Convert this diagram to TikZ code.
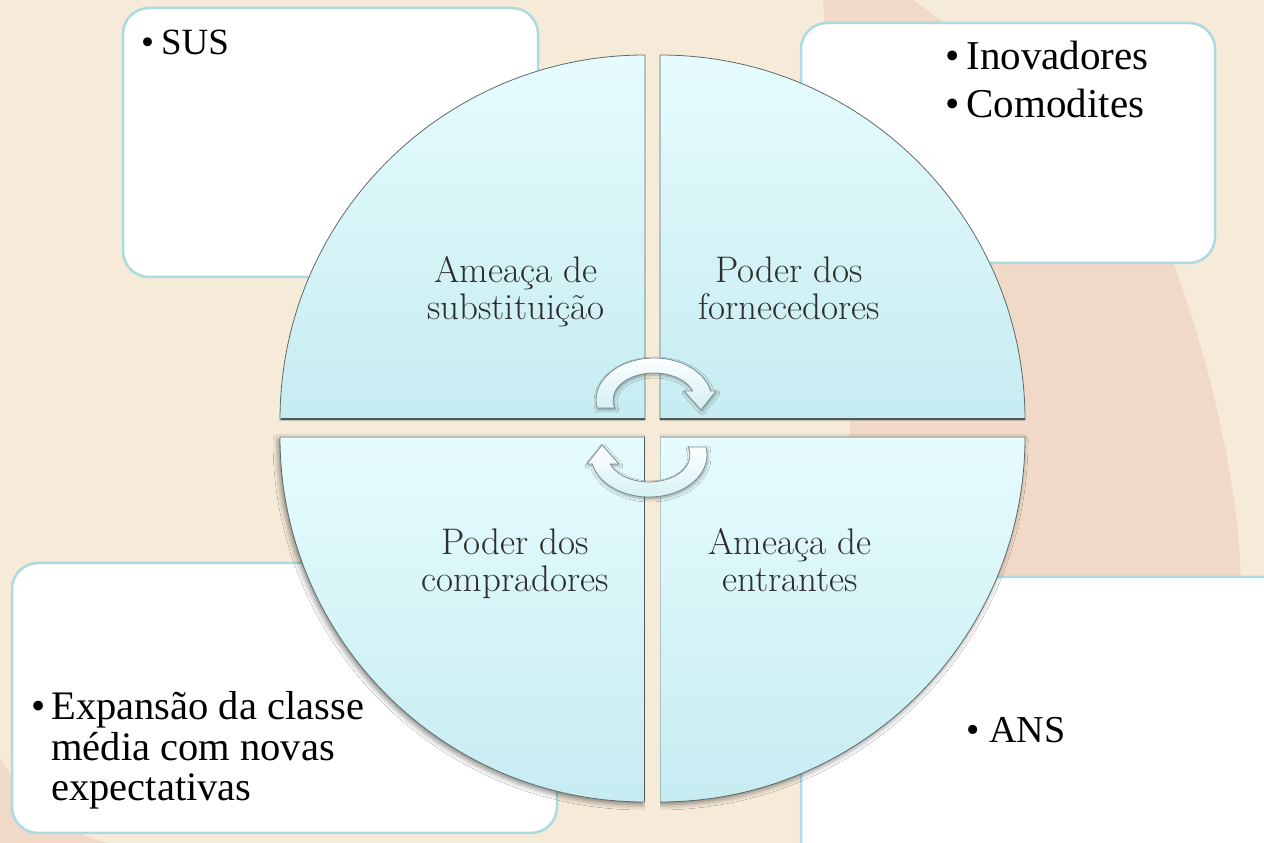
\documentclass[tikz,border=0pt]{standalone}
\usepackage{fontspec}
\newfontfamily\bfont{Liberation Serif}
\usetikzlibrary{shadows.blur}
\definecolor{bg}{HTML}{F6EBD9}
\definecolor{peach}{HTML}{F0D9C6}
\definecolor{boxline}{HTML}{ABDAE1}
\definecolor{qtop}{HTML}{E6FCFE}
\definecolor{qbot}{HTML}{C6ECF1}
\definecolor{qline}{HTML}{5F6A6A}
\definecolor{qdark}{HTML}{4E5A5C}
\definecolor{lbl}{HTML}{2E2E2E}
\definecolor{arrline}{HTML}{7F8C8E}
\definecolor{arrfill}{HTML}{D3F0F4}
\begin{document}
\begin{tikzpicture}[x=1pt,y=1pt,
  box/.style={draw=boxline, line width=2.5pt, fill=white, rounded corners=26pt, inner sep=0pt, outer sep=0pt},
  quad/.style={draw=qline, line width=0.8pt, top color=qtop, bottom color=qbot},
  quadlow/.style={quad, blur shadow={shadow xshift=-2pt, shadow yshift=-3pt, shadow blur radius=5pt, shadow opacity=45}},
  qlabel/.style={anchor=base, inner sep=0pt, text=lbl, font=\fontsize{37}{38}\selectfont},
  btext/.style={anchor=base west, inner sep=0pt, text=black},
  cyc/.style={draw=arrline, line width=0.8pt, top color=white, bottom color=arrfill, line join=round,
    blur shadow={shadow xshift=1pt, shadow yshift=-2pt, shadow blur radius=3pt, shadow opacity=35}}
]
\useasboundingbox (0,0) rectangle (1264,843);
% background
\fill[bg] (0,0) rectangle (1264,843);
\begin{scope}
\clip (0,0) rectangle (1264,843);
\fill[peach] (823,843) -- (913,843) .. controls (1030,760) and (1120,660) .. (1160,613)
  .. controls (1200,520) and (1235,380) .. (1240,283) -- (1250,-10) -- (850,-10) -- (850,443) -- cycle;
\fill[peach] (0,85) .. controls (20,50) and (60,10) .. (110,0) -- (0,0) -- cycle;
\end{scope}

% boxes
\node[box, minimum width=415pt, minimum height=269pt] (boxTL) at (330.5,700.5) {};
\node[box, minimum width=414pt, minimum height=240pt] (boxTR) at (1008,700) {};
\node[box, minimum width=545pt, minimum height=270pt] (boxBL) at (284.5,145) {};
\node[box, minimum width=499pt, minimum height=306pt] (boxBR) at (1050.5,113) {};

% box texts
\node[btext, font=\bfont\fontsize{37}{40}\selectfont] (sus) at (141,788) {\textbullet\hspace{7pt}SUS};
\node[btext, font=\bfont\fontsize{41}{48}\selectfont] (forn) at (945,773)
  {\begin{tabular}[t]{@{}l@{}}\textbullet\hspace{7pt}Inovadores\\\textbullet\hspace{7pt}Comodites\end{tabular}};
\node[btext, font=\bfont\fontsize{40.5}{40}\selectfont] (comp) at (31,123)
  {\textbullet\hspace{6pt}\begin{tabular}[t]{@{}l@{}}Expansão da classe\\média com novas\\expectativas\end{tabular}};
\node[btext, font=\bfont\fontsize{38}{40}\selectfont] (ans) at (966,100) {\textbullet\hspace{10pt}ANS};

% quadrants
\path[quadlow] (645,406) -- (280,406) arc[start angle=180, end angle=270, radius=365] -- cycle;
\path[quadlow] (660,406) -- (1025,406) arc[start angle=0, end angle=-90, radius=365] -- cycle;
\fill[bg] (645.45,30) rectangle (659.55,430);
\path[quad] (645,423) -- (280,423) arc[start angle=180, end angle=90, radius=365] -- cycle;
\path[quad] (660,423) -- (660,788) arc[start angle=90, end angle=0, radius=365] -- cycle;
\draw[qdark, line width=2.6pt] (280.5,424) -- (645,424);
\draw[qdark, line width=2.6pt] (660,424) -- (1024.5,424);
\draw[qdark, line width=1.4pt] (644.6,405.6) -- (644.6,41.5);

% labels
\node[qlabel] (q1a) at (516,560) {Ameaça de};
\node[qlabel] (q1b) at (516,523) {substituição};
\node[qlabel] (q2a) at (789,560) {Poder dos};
\node[qlabel] (q2b) at (789,523) {fornecedores};
\node[qlabel] (q3a) at (515,288) {Poder dos};
\node[qlabel] (q3b) at (515,251) {compradores};
\node[qlabel] (q4a) at (790,288) {Ameaça de};
\node[qlabel] (q4b) at (790,251) {entrantes};

% cycle arrows
\path[cyc] (597.07,435) arc[start angle=191, end angle=12.4, x radius=58, y radius=42]
  -- (716,452) -- (701,433) -- (684,452) -- (692.65,452)
  arc[start angle=19.5, end angle=197, x radius=41, y radius=27] -- cycle;
\begin{scope}[rotate around={180:(651.5,415.5)}]
\path[cyc] (597.07,435) arc[start angle=191, end angle=12.4, x radius=58, y radius=42]
  -- (716,452) -- (701,433) -- (684,452) -- (692.65,452)
  arc[start angle=19.5, end angle=197, x radius=41, y radius=27] -- cycle;
\end{scope}
\end{tikzpicture}
\end{document}
